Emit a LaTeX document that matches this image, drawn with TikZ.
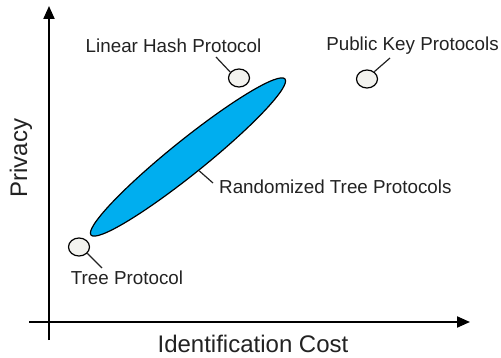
\documentclass[tikz,border=0pt]{standalone}
\usepackage{fontspec}
\setmainfont{Liberation Sans}
\usepackage{tikz}
\usetikzlibrary{arrows.meta,positioning,shapes.geometric}
\definecolor{protoblue}{HTML}{00AEEF}
\definecolor{dotgrey}{HTML}{F3F3EF}
\definecolor{inkgrey}{HTML}{222222}

\begin{document}
\begin{tikzpicture}[
  x=1pt,y=-1pt,
  >={Triangle[length=13pt,width=11pt]},
  axis/.style={line width=2pt,black},
  dot/.style={draw,ellipse,fill=dotgrey,line width=1.2pt,minimum width=21pt,minimum height=18pt,inner sep=0pt},
  label/.style={font=\fontsize{18.8}{20}\selectfont,text=inkgrey,inner sep=0pt},
  axlabel/.style={font=\fontsize{24}{26}\selectfont,text=inkgrey,inner sep=0pt},
  leader/.style={line width=1.2pt,inkgrey}
]
\useasboundingbox (0,0) rectangle (501,358);
% axes
\coordinate (ybase) at (49,340);
\coordinate (ytop) at (49,6);
\coordinate (xbase) at (29,322);
\coordinate (xend) at (470,322);
\draw[axis,->] (ybase) -- (ytop);
\draw[axis,->] (xbase) -- (xend);
\node[axlabel] (xlab) at (253,344) {Identification Cost};
\node[axlabel,rotate=90] (ylab) at (21,158) {Privacy};
% protocols
\node[draw,ellipse,fill=protoblue,line width=1.2pt,rotate=38.8,minimum width=249pt,minimum height=34pt,inner sep=0pt] (rtree) at (188,157) {};
\node[dot] (lhash) at (239,78) {};
\node[dot] (pkey) at (367,79) {};
\node[dot] (tree) at (79,247) {};
\node[label] (lhashlab) at (173.5,46) {Linear Hash Protocol};
\node[label] (pkeylab) at (412.5,46) {Public Key Protocols};
\node[label] (treelab) at (127,278) {Tree Protocol};
\node[label,anchor=west] (rtreelab) at (219,187) {Randomized Tree Protocols};
\coordinate (lhashend) at (216,57);
\coordinate (pkeyend) at (390,58);
\coordinate (treeend) at (102,268);
\coordinate (rtreeend) at (213,183);
\draw[leader] (lhash.146) -- (lhashend);
\draw[leader] (pkey.45) -- (pkeyend);
\draw[leader] (tree.-37) -- (treeend);
\draw[leader] (rtree.south) -- (rtreeend);
\end{tikzpicture}
\end{document}
